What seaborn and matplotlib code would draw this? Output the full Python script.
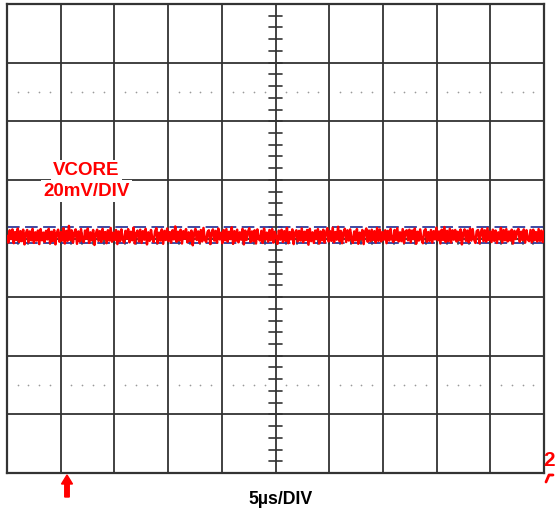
import numpy as np
import pandas as pd
import matplotlib
matplotlib.use("Agg")
import matplotlib.pyplot as plt
import seaborn as sns

# scope settings: 5us/DIV horizontal, 20mV/DIV vertical, 10 x 8 divisions
us_per_div = 5
mv_per_div = 20
n_hdiv = 10
n_vdiv = 8

# VCORE ripple (mV, relative to centre graticule)
vcore_mv = [
    0.9, -1.4, 2.8, -0.2, 3.1, -1.6, 2.2, -0.5, 3.4, -1.2,
    2.5, -0.9, 3.0, -2.0, 1.8, 2.9, -1.3, 2.4, -0.6, 3.3,
    -1.5, 2.1, -0.7, 2.7, -1.9, 3.2, -0.6, 2.0, -1.2, 2.6,
    -0.3, 3.3, -1.6, 2.3, -0.9, 2.9, -2.0, 1.9, 3.0, -1.1,
    2.2, -0.7, 3.5, -1.7, 2.6, -0.8, 4.3, -0.5, 2.8, -1.4,
    2.0, 3.1, -1.8, 2.4, -1.0, 3.2, -0.4, -1.3, 2.7, -0.1,
    3.4, -1.5, 2.1, -0.6, 2.9, -2.2, 1.7, 3.0, -0.8, 2.5,
    -1.2, 3.3, -0.2, 2.2, -1.6, 2.8, -0.7, 3.6, -1.1, 2.0,
    -0.5, 2.9, -1.9, 2.4, -0.9, 3.1, -0.3, -1.4, 2.6, -0.1,
    3.2, -1.3, 2.3, -0.6, 3.7, -1.7, 1.8, 2.7, -1.0, 3.0,
    -1.5, 2.5, -0.4, 3.3, -2.0, 2.1, -0.8, 2.9, -0.2, -1.2,
    2.4, 3.5, -1.6, 2.0, -0.7, 3.1, -1.8, 2.6, -0.5, 3.4,
    -0.9, 2.2, -1.4, 2.8, -0.3, 4.1, -1.1, 2.3, -0.6, 3.0,
    -1.7, 2.5, -0.1, 3.2, -1.3, 2.1, -0.8, 2.7, -2.3, 1.8,
    3.3, -0.5, 2.4, -1.5, 2.9, -1.0, 3.6, -0.4, -1.2, 2.2,
    2.8, -1.9, 1.9, 3.1, -0.7, 2.6, -1.4, 3.4, -0.3, 2.0,
    -1.6, 2.9, -0.6, 3.2, -1.1, 2.3, -0.2, 3.8, -1.8, 2.5,
    -0.8, 3.0, -1.3, 2.1, -0.4, 3.3, -2.0, 2.7, -0.5, 2.2,
    3.5, -1.2, 2.4, -0.9, 2.8, -1.7, 3.1, -0.1, -0.7, 2.6,
    -1.5, 3.4, -0.3, 2.0, -1.1, 2.9, -0.6, 3.2, -1.4, 2.3,
    0.6, -1.8, 2.7, -0.4, 3.0, -1.2, 2.5, -0.8, 3.6, -1.6,
    2.2, -0.3, 3.1, -1.9, 2.0, 2.8, -1.0, 2.6, -0.7, 3.4,
    -1.3, 2.3, -0.5, 2.9, -2.1, 3.3, -0.9, 2.1, -1.5, 2.7,
    -0.2, 3.2, -1.7, 2.4, -0.6, 3.0, -1.4, 1.9, 3.5, -1.0,
    2.5, -0.8, 3.7, -1.3, 2.2, -0.4, 4.0, -0.9, 2.6, -1.6,
    2.1, 3.3, -1.2, 2.8, -0.7, 3.1, -0.2, -1.5, 2.4, -0.6,
    3.2, -1.8, 2.0, -0.3, 2.9, -1.9, 2.3, 3.4, -1.1, 2.7,
    -0.9, 3.0, -0.5, 2.5, -1.4, 3.6, -0.8, 3.1, -1.0, 2.2,
    -0.4, 2.8, -1.6, 2.6, -0.7, 3.3, -0.1, -1.2, 2.9, -0.5,
    3.5, -1.0, 2.1, -0.9, 3.2, -1.5, 2.4, 2.8, -0.6, 3.0,
    -1.3, 2.7, -0.2, 3.4, -1.8, 2.3, -0.7, 3.1, -0.4, -1.6,
    2.6, 3.2, -1.1, 2.2, -0.8, 2.9, -1.4, 2.5, -0.3, 3.7,
    -0.6, 2.4, -1.7, 3.0, -0.5, 3.9, -1.2, 2.6, -0.9, 3.3,
    -1.4, 2.8, -0.4, 2.9, -1.0, 2.3, -0.6, 3.1, -2.0, 2.0,
    3.1, -0.8, 2.7, -1.3, 3.4, -0.7, 3.2, -0.2, -1.5, 2.5,
    2.9, -1.6, 2.2, 3.3, -0.9, 2.8, -1.1, 3.5, -0.5, 2.4,
    -1.2, 3.0, -0.8, 2.7, -1.5, 2.1, -0.3, 3.6, -1.4, 2.9,
    -0.6, 3.2, -1.0, 2.4, -0.7, 3.0, -1.7, 2.6, -0.2, 2.5,
    3.3, -1.1, 2.3, -0.5, 3.1, -1.4, 2.8, -0.4, -0.9, 2.9,
    -1.3, 3.0, -0.6, 2.2, -1.0, 3.2, -0.8, 2.7, -1.2, 2.6,
]
# cursor levels (mV)
cursor_mv = [3.8, -1.7]

t_us = np.linspace(0, us_per_div * n_hdiv, len(vcore_mv))
df = pd.DataFrame({"t": t_us, "v": vcore_mv})

sns.set_style("white")
plt.rcParams["font.family"] = ["Liberation Sans", "DejaVu Sans"]

fig = plt.figure(figsize=(5.57, 5.16), dpi=100)
ax = fig.add_axes([7 / 557, 1 - 473 / 516, 537 / 557, 469 / 516])
xmax = us_per_div * n_hdiv
ymax = mv_per_div * n_vdiv / 2
ax.set_xlim(0, xmax)
ax.set_ylim(-ymax, ymax)

grid_c = "#333333"
# graticule
for i in range(1, n_hdiv):
    ax.axvline(i * us_per_div, color=grid_c, lw=1.3, zorder=1)
for j in range(-n_vdiv // 2 + 1, n_vdiv // 2):
    ax.axhline(j * mv_per_div, color=grid_c, lw=1.3, zorder=1)
for s in ax.spines.values():
    s.set_color(grid_c)
    s.set_linewidth(1.6)
ax.set_xticks([])
ax.set_yticks([])

# minor ticks on centre axes
xc = xmax / 2
tick_dx = 0.6
tick_dy = 2.0
for k in range(-n_vdiv * 5 // 2 + 1, n_vdiv * 5 // 2):
    y = k * mv_per_div / 5
    ax.plot([xc - tick_dx, xc + tick_dx], [y, y], color=grid_c, lw=1.2, zorder=1)
for k in range(1, n_hdiv * 5):
    x = k * us_per_div / 5
    ax.plot([x, x], [-tick_dy, tick_dy], color=grid_c, lw=1.2, zorder=1)

# dotted rows at +/- 2.5 div
for yd in (2.5 * mv_per_div, -2.5 * mv_per_div):
    xs = [k * us_per_div / 5 for k in range(1, n_hdiv * 5) if k % 5 != 0]
    ax.scatter(xs, [yd] * len(xs), s=1.5, color="#9a9a9a", zorder=1, linewidths=0)

# cursors
for c in cursor_mv:
    ax.axhline(c, color="#2e3a9c", lw=1.3, ls=(0, (7, 3)), zorder=2)

# trace
sns.lineplot(data=df, x="t", y="v", color="#ff0000", lw=1.8, ax=ax, zorder=3)
ax.set_xlabel("")
ax.set_ylabel("")

box = dict(facecolor="white", edgecolor="none", pad=1.5)
ax.text(7.4, 23.2, "VCORE", color="#ff0000", fontsize=13.5, fontweight="bold",
        ha="center", va="center", bbox=box, zorder=4)
ax.text(7.4, 16.2, "20mV/DIV", color="#ff0000", fontsize=13.5, fontweight="bold",
        ha="center", va="center", bbox=box, zorder=4)

fig.text(281 / 557, 1 - 500 / 516, "5µs/DIV", color="black", fontsize=12.8,
         fontweight="bold", ha="center", va="center")

# trigger arrow and channel marker
fig.patches.append(matplotlib.patches.FancyArrow(
    67 / 557, 1 - 497 / 516, 0, 22 / 516, width=4.5 / 557, head_width=11 / 557,
    head_length=9 / 516, length_includes_head=True, color="#ff0000",
    transform=fig.transFigure, figure=fig))
fig.text(549 / 557, 1 - 460 / 516, "2", color="#ff0000", fontsize=15,
         fontweight="bold", ha="center", va="center")
fig.lines.append(matplotlib.lines.Line2D(
    [546 / 557, 549 / 557, 553 / 557], [1 - 482 / 516, 1 - 475 / 516, 1 - 475 / 516],
    color="#ff0000", lw=2.0, transform=fig.transFigure, figure=fig))

fig.savefig("out.png", dpi=100)
